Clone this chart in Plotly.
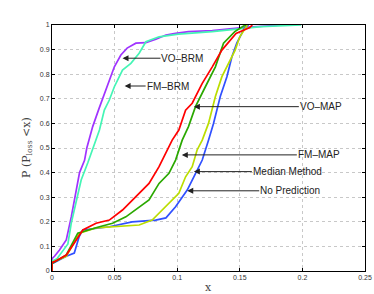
import plotly.graph_objects as go

# ---- data ----
vo_brm_x = [0, 0, 0.002, 0.006, 0.0114, 0.0154, 0.022, 0.026, 0.0278, 0.0325, 0.0376, 0.0432, 0.0498, 0.055, 0.060, 0.067, 0.075, 0.083, 0.091, 0.0987, 0.109, 0.128, 0.154, 0.181, 0.185]
vo_brm_y = [0, 0.05, 0.06, 0.085, 0.126, 0.22, 0.40, 0.45, 0.50, 0.587, 0.661, 0.736, 0.83, 0.878, 0.906, 0.926, 0.928, 0.942, 0.959, 0.966, 0.973, 0.977, 0.99, 0.999, 1.0]

fm_brm_x = [0, 0, 0.004, 0.0087, 0.0127, 0.0154, 0.0194, 0.0233, 0.0286, 0.0339, 0.0379, 0.0418, 0.0458, 0.0498, 0.0563, 0.063, 0.0696, 0.075, 0.0855, 0.101, 0.128, 0.167, 0.199]
fm_brm_y = [0, 0.04, 0.05, 0.085, 0.11, 0.195, 0.29, 0.37, 0.44, 0.52, 0.573, 0.654, 0.695, 0.749, 0.817, 0.844, 0.885, 0.932, 0.952, 0.963, 0.973, 0.993, 1.0]

vo_map_x = [0, 0, 0.002, 0.0114, 0.0194, 0.0246, 0.0352, 0.0458, 0.0563, 0.067, 0.0775, 0.0855, 0.0908, 0.096, 0.1013, 0.1067, 0.112, 0.12, 0.128, 0.1357, 0.147, 0.158, 0.16]
vo_map_y = [0, 0.035, 0.038, 0.065, 0.126, 0.167, 0.194, 0.207, 0.248, 0.302, 0.356, 0.424, 0.478, 0.532, 0.573, 0.654, 0.682, 0.763, 0.83, 0.898, 0.966, 0.99, 1.0]

fm_map_x = [0, 0, 0.0114, 0.0206, 0.0379, 0.0484, 0.059, 0.0696, 0.0775, 0.0855, 0.0934, 0.0987, 0.1013, 0.104, 0.109, 0.1146, 0.1225, 0.1305, 0.137, 0.146, 0.153, 0.155]
fm_map_y = [0, 0.03, 0.065, 0.154, 0.18, 0.194, 0.22, 0.261, 0.289, 0.356, 0.397, 0.451, 0.49, 0.532, 0.587, 0.668, 0.749, 0.83, 0.926, 0.973, 0.996, 1.0]

median_x = [0, 0, 0.0114, 0.022, 0.035, 0.051, 0.0696, 0.08, 0.0934, 0.1013, 0.1067, 0.112, 0.1159, 0.12, 0.125, 0.1305, 0.1357, 0.141, 0.1463, 0.15, 0.154, 0.156]
median_y = [0, 0.035, 0.06, 0.154, 0.175, 0.18, 0.187, 0.207, 0.275, 0.316, 0.383, 0.424, 0.492, 0.532, 0.60, 0.709, 0.79, 0.844, 0.898, 0.952, 0.987, 1.0]

nopred_x = [0, 0, 0.0114, 0.0178, 0.0217, 0.0246, 0.0458, 0.064, 0.0828, 0.091, 0.0987, 0.108, 0.1133, 0.12, 0.125, 0.129, 0.1344, 0.1397, 0.1437, 0.1476, 0.1516, 0.154, 0.157]
nopred_y = [0, 0.03, 0.06, 0.073, 0.14, 0.167, 0.18, 0.20, 0.207, 0.216, 0.261, 0.329, 0.383, 0.451, 0.532, 0.60, 0.709, 0.79, 0.871, 0.926, 0.966, 0.99, 1.0]

x_ticks = [0, 0.05, 0.1, 0.15, 0.2, 0.25]
x_tick_labels = ["0", "0.05", "0.1", "0.15", "0.2", "0.25"]
y_ticks = [0, 0.1, 0.2, 0.3, 0.4, 0.5, 0.6, 0.7, 0.8, 0.9, 1]
y_tick_labels = ["0", "0.1", "0.2", "0.3", "0.4", "0.5", "0.6", "0.7", "0.8", "0.9", "1"]

x_title = "x"
y_title = "P (P<sub>loss</sub> <x)"

labels = ["VO\u2013BRM", "FM\u2013BRM", "VO\u2013MAP", "FM\u2013MAP", "Median Method", "No Prediction"]
# arrow target points and text offsets (pixels)
arrow_x = [0.0563, 0.058, 0.1133, 0.1037, 0.1133, 0.108]
arrow_y = [0.865, 0.752, 0.668, 0.472, 0.404, 0.326]
arrow_ax = [38, 21, 105, 115, 58, 72]

series = [
    (vo_brm_x, vo_brm_y, "#a033ff"),
    (fm_brm_x, fm_brm_y, "#44f5b5"),
    (nopred_x, nopred_y, "#3050ff"),
    (median_x, median_y, "#bbdd00"),
    (fm_map_x, fm_map_y, "#2aa800"),
    (vo_map_x, vo_map_y, "#ff0000"),
]

fig = go.Figure()
for xs, ys, c in series:
    fig.add_trace(go.Scatter(x=xs, y=ys, mode="lines",
                             line=dict(color=c, width=1.7),
                             showlegend=False, hoverinfo="skip"))

for t, px, py, ax in zip(labels, arrow_x, arrow_y, arrow_ax):
    fig.add_annotation(x=px, y=py, xref="x", yref="y", text=t,
                       showarrow=True, ax=ax, ay=0, xanchor="left",
                       arrowhead=2, arrowsize=1.2, arrowwidth=1,
                       arrowcolor="#222", standoff=0, borderpad=0,
                       font=dict(family="Liberation Sans, Arial", size=10, color="#222"))

title_font = dict(family="DejaVu Serif, Liberation Serif", size=11, color="#444", weight="normal")
fig.add_annotation(x=0.5, y=0, xref="paper", yref="paper", text=x_title,
                   showarrow=False, xanchor="center", yanchor="middle",
                   yshift=-16, font=title_font)
fig.add_annotation(x=0, y=0.5, xref="paper", yref="paper", text=y_title,
                   showarrow=False, xanchor="center", yanchor="middle",
                   xshift=-25, textangle=-90, font=title_font)

axis_common = dict(showline=True, linecolor="black", linewidth=1, mirror="ticks",
                   ticks="inside", ticklen=3, tickcolor="black",
                   showgrid=True, gridcolor="#c8c8c8", griddash="dot", gridwidth=1,
                   zeroline=False, automargin=False,
                   tickfont=dict(family="Liberation Sans, Arial", size=7, color="#333"))

fig.update_xaxes(range=[0, 0.25], tickvals=x_ticks, ticktext=x_tick_labels, **axis_common)
fig.update_yaxes(range=[0, 1], tickvals=y_ticks, ticktext=y_tick_labels, **axis_common)

fig.update_layout(width=374, height=294,
                  margin=dict(l=52, r=9, t=25, b=23),
                  paper_bgcolor="white", plot_bgcolor="white")

fig.write_html("out.html", config={"displayModeBar": False},
               post_script="document.body.style.margin='0';document.body.style.overflow='hidden';")
